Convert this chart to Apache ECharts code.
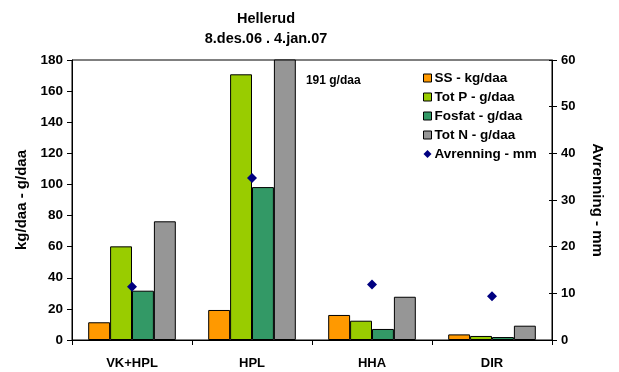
<!DOCTYPE html>
<html>
<head>
<meta charset="utf-8">
<script src="https://cdn.jsdelivr.net/npm/echarts@6/dist/echarts.min.js"></script>
<style>
  html, body { margin: 0; padding: 0; background: #fff; }
  #chart { width: 619px; height: 372px; }
</style>
</head>
<body>
<div id="chart"></div>
<script>
// Hellerud, runoff period 8 Dec 2006 - 4 Jan 2007
var categories = ['VK+HPL', 'HPL', 'HHA', 'DIR'];
var ssKg = [11.4, 19.3, 16.1, 3.6];        // SS - kg/daa
var totP = [60.2, 170.8, 12.4, 2.6];       // Tot P - g/daa
var fosfat = [31.7, 98.3, 7.1, 1.9];       // Fosfat - g/daa
var totN = [76.3, 191, 27.8, 9.2];         // Tot N - g/daa
var avrenning = [11.4, 34.7, 11.9, 9.4];   // Avrenning - mm
var leftTicks = { min: 0, max: 180, interval: 20 };
var rightTicks = { min: 0, max: 60, interval: 10 };

var font = 'Liberation Sans, Arial, sans-serif';
var chart = echarts.init(document.getElementById('chart'));

function barSeries(name, values, color) {
  return {
    name: name,
    type: 'bar',
    data: values,
    barGap: '0%',
    barCategoryGap: '27%',
    clip: true,
    itemStyle: { color: color, borderColor: '#000', borderWidth: 1 }
  };
}

// Values above the axis maximum are clipped; their value is written beside the bar
var totNData = totN.map(function (v) {
  if (v > leftTicks.max) {
    return {
      value: v,
      label: {
        show: true,
        formatter: '{c} g/daa',
        position: [32, 15],
        color: '#000',
        fontFamily: font,
        fontWeight: 'bold',
        fontSize: 12
      }
    };
  }
  return v;
});

var boldText = { fontFamily: font, fontWeight: 'bold', color: '#000' };
function text(size) { return Object.assign({ fontSize: size }, boldText); }

chart.setOption({
  animation: false,
  title: {
    text: 'Hellerud\n8.des.06 . 4.jan.07',
    left: 261,
    top: 4,
    textAlign: 'center',
    textStyle: Object.assign({ lineHeight: 20 }, text(14.5))
  },
  grid: {
    left: 72, right: 67, top: 60, bottom: 32,
    show: true, borderColor: '#000', borderWidth: 1, backgroundColor: 'transparent'
  },
  legend: {
    orient: 'vertical',
    left: 418,
    top: 66,
    itemGap: 5,
    itemWidth: 8,
    itemHeight: 8,
    textStyle: Object.assign({ padding: [0, 0, 0, -2] }, text(13.5)),
    data: [
      { name: 'SS - kg/daa', icon: 'rect', itemStyle: { borderColor: '#000', borderWidth: 1 } },
      { name: 'Tot P - g/daa', icon: 'rect', itemStyle: { borderColor: '#000', borderWidth: 1 } },
      { name: 'Fosfat - g/daa', icon: 'rect', itemStyle: { borderColor: '#000', borderWidth: 1 } },
      { name: 'Tot N - g/daa', icon: 'rect', itemStyle: { borderColor: '#000', borderWidth: 1 } },
      { name: 'Avrenning - mm', icon: 'diamond' }
    ]
  },
  xAxis: {
    type: 'category',
    data: categories,
    axisLine: { lineStyle: { color: '#000', width: 1 } },
    axisTick: { show: true, length: 5, lineStyle: { color: '#000' } },
    axisLabel: Object.assign({ margin: 17 }, text(13))
  },
  yAxis: [
    {
      type: 'value',
      min: leftTicks.min, max: leftTicks.max, interval: leftTicks.interval,
      name: 'kg/daa - g/daa',
      nameLocation: 'middle',
      nameGap: 43,
      nameTextStyle: text(15),
      axisLine: { show: true, lineStyle: { color: '#000' } },
      axisTick: { show: true, length: 5, lineStyle: { color: '#000' } },
      splitLine: { show: false },
      axisLabel: Object.assign({ margin: 9 }, text(13.5))
    },
    {
      type: 'value',
      position: 'right',
      min: rightTicks.min, max: rightTicks.max, interval: rightTicks.interval,
      name: 'Avrenning - mm',
      nameLocation: 'middle',
      nameRotate: -90,
      nameGap: 38,
      nameTextStyle: text(15),
      axisLine: { show: true, lineStyle: { color: '#000' } },
      axisTick: { show: true, length: 5, lineStyle: { color: '#000' } },
      splitLine: { show: false },
      axisLabel: Object.assign({ margin: 9 }, text(13))
    },
    {
      // inner half of the right axis' crossing ticks
      type: 'value',
      position: 'right',
      min: rightTicks.min, max: rightTicks.max, interval: rightTicks.interval,
      axisLine: { show: false },
      axisTick: { show: true, inside: true, length: 3, lineStyle: { color: '#000' } },
      axisLabel: { show: false },
      splitLine: { show: false }
    }
  ],
  series: [
    barSeries('SS - kg/daa', ssKg, '#FF9900'),
    barSeries('Tot P - g/daa', totP, '#99CC00'),
    barSeries('Fosfat - g/daa', fosfat, '#339966'),
    barSeries('Tot N - g/daa', totNData, '#969696'),
    {
      name: 'Avrenning - mm',
      type: 'scatter',
      yAxisIndex: 1,
      data: avrenning,
      symbol: 'diamond',
      symbolSize: 10,
      itemStyle: { color: '#000080', opacity: 1 },
      z: 5
    }
  ]
});
</script>
</body>
</html>
